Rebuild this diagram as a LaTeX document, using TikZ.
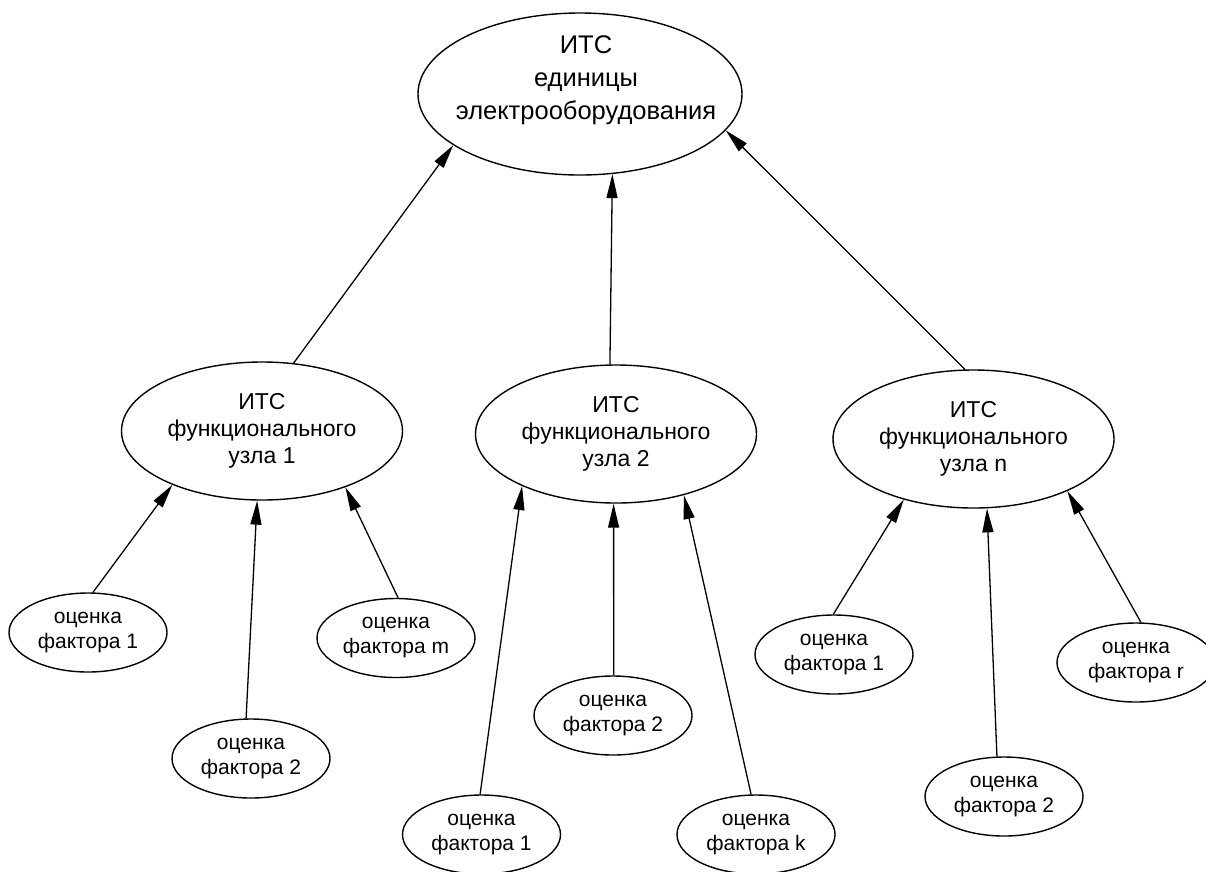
\documentclass[tikz,border=0pt]{standalone}
\usepackage{fontspec}
\setmainfont{Liberation Sans}
\usetikzlibrary{shapes.geometric,arrows.meta}

\begin{document}
\begin{tikzpicture}[x=1pt,y=-1pt,
  outline/.style={ellipse, draw, line width=1.4pt, inner sep=0pt},
  rootell/.style={outline, minimum width=324pt, minimum height=162pt},
  roottext/.style={align=center, inner sep=0pt, font=\fontsize{25.5}{33}\selectfont},
  unitell/.style={outline, minimum width=281pt, minimum height=138pt, align=center,
    font=\fontsize{23}{27}\selectfont},
  factorell/.style={outline, minimum width=158pt, minimum height=79pt, align=center,
    font=\fontsize{21}{25}\selectfont},
  link/.style={line width=1.3pt, -{Triangle[length=24pt,width=11pt]}}
]
\useasboundingbox (0,0) rectangle (1206,871);

% root
\node[rootell] (root) at (580,94) {};
\node[roottext] (roottxt) at (586,80) {ИТС\\единицы\\электрооборудования};

% functional units
\node[unitell] (u1) at (262,431) {ИТС\\функционального\\узла 1};
\node[unitell] (u2) at (616,434) {ИТС\\функционального\\узла 2};
\node[unitell] (u3) at (973.5,439) {ИТС\\функционального\\узла n};

% factor estimates, unit 1
\node[factorell] (a1) at (88,632.5) {оценка\\фактора 1};
\node[factorell] (a2) at (251,758.5) {оценка\\фактора 2};
\node[factorell] (am) at (396,638) {оценка\\фактора m};

% factor estimates, unit 2
\node[factorell] (b1) at (481.5,834.5) {оценка\\фактора 1};
\node[factorell] (b2) at (613,715.5) {оценка\\фактора 2};
\node[factorell] (bk) at (756,834.5) {оценка\\фактора k};

% factor estimates, unit n
\node[factorell] (c1) at (834,654.5) {оценка\\фактора 1};
\node[factorell] (c2) at (1004,796.5) {оценка\\фактора 2};
\node[factorell] (cr) at (1136,662.5) {оценка\\фактора r};

% units -> root
\draw[link] (u1.65) -- (root.202.5);
\draw[link] (u2.95) -- (root.292.7);
\draw[link] (u3.97) -- (root.346);

% factors -> units
\draw[link] (a1.83) -- (u1.211.4);
\draw[link] (a2.97) -- (u1.266);
\draw[link] (am.87) -- (u1.326.6);

\draw[link] (b1.92) -- (u2.209.5);
\draw[link] (b2.89) -- (u2.268);
\draw[link] (bk.97) -- (u2.318);

\draw[link] (c1.91) -- (u3.221);
\draw[link] (c2.100) -- (u3.281);
\draw[link] (cr.83) -- (u3.331.6);
\end{tikzpicture}
\end{document}
